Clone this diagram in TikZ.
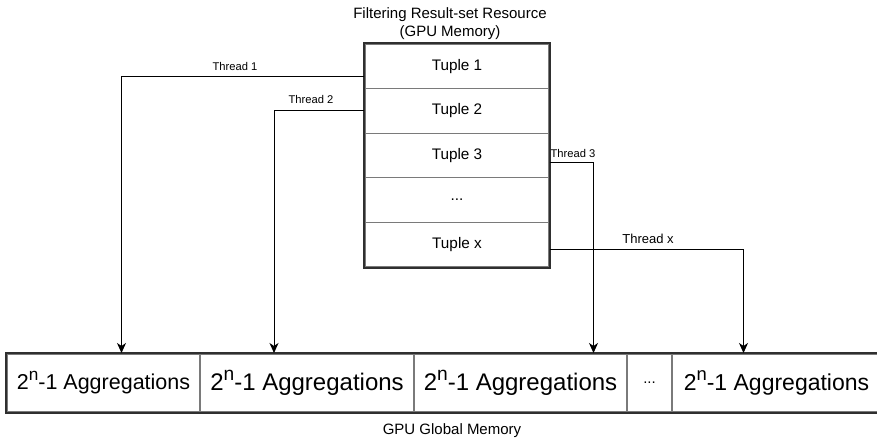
\documentclass[tikz,border=0pt]{standalone}
\usepackage{fontspec}
\setmainfont{Liberation Sans}
\usetikzlibrary{arrows.meta,calc}
\definecolor{edgegray}{HTML}{2F2F2F}
\definecolor{divgray}{HTML}{7A7A7A}
\newcommand\supn[1]{\raisebox{0.42em}{\scalebox{0.8}{#1}}}
\begin{document}
\begin{tikzpicture}[x=1pt,y=-1pt,
  tuplecell/.style={draw=divgray,line width=1.2pt,minimum width=184pt,minimum height=44.6pt,
    inner sep=0pt,font=\fontsize{15.3}{18}\selectfont},
  aggcell/.style={draw=divgray,line width=1.2pt,minimum height=58pt,inner sep=0pt},
  outline/.style={draw=edgegray,line width=2pt},
  thr/.style={draw=black,line width=0.95pt,-{Stealth[length=10pt,width=9pt,inset=3pt]}},
  thrlabel/.style={inner sep=0pt,font=\fontsize{11.2}{13}\selectfont},
  plain/.style={inner sep=0pt,align=center,font=\fontsize{15}{18}\selectfont}]
\useasboundingbox (0,0) rectangle (877,442);
\clip (0,0) rectangle (877,442);

% title of the result-set resource
\node[plain] (title) at (450,24) {Filtering Result-set Resource\\(GPU Memory)};

% tuple column
\node[tuplecell] (t1) at (457,66.3) {Tuple 1};
\node[tuplecell] (t2) at (457,110.9) {Tuple 2};
\node[tuplecell] (t3) at (457,155.5) {Tuple 3};
\node[tuplecell] (t4) at (457,200.1) {...};
\node[tuplecell] (t5) at (457,244.7) {Tuple x};
\draw[outline] (t1.north west) rectangle (t5.south east);

% aggregation strip in global memory
\node[aggcell,minimum width=193pt,font=\fontsize{21.5}{24}\selectfont] (a1) at (103.5,383) {2\supn{n}-1 Aggregations};
\node[aggcell,minimum width=214pt,font=\fontsize{24}{27}\selectfont] (a2) at (307,383) {2\supn{n}-1 Aggregations};
\node[aggcell,minimum width=213pt,font=\fontsize{24}{27}\selectfont] (a3) at (520.5,383) {2\supn{n}-1 Aggregations};
\node[aggcell,minimum width=45pt,font=\fontsize{15}{18}\selectfont] (a4) at (649.5,383) {...};
\node[aggcell,minimum width=209pt,font=\fontsize{23}{26}\selectfont] (a5) at (776.5,383) {2\supn{n}-1 Aggregations};
\draw[outline] (a1.north west) rectangle (a5.south east);

\node[plain] (gmem) at (452,431) {GPU Global Memory};

% arrow targets on the top edge of the strip
\coordinate (d1) at (121.5,353);
\coordinate (d2) at (274,353);
\coordinate (d3) at (593.5,353);
\coordinate (d4) at (743.5,353);

% thread connectors
\draw[thr] ([yshift=-9.7pt]t1.west) -| (d1);
\draw[thr] ([yshift=0.9pt]t2.west) -| (d2);
\draw[thr] ([yshift=-6.5pt]t3.east) -| (d3);
\draw[thr] ([yshift=-4.3pt]t5.east) -| (d4);

\node[thrlabel] (l1) at (235,66) {Thread 1};
\node[thrlabel] (l2) at (311,99) {Thread 2};
\node[thrlabel] (l3) at (573,153) {Thread 3};
\node[thrlabel,font=\fontsize{13}{15}\selectfont] (l4) at (648,239) {Thread x};
\end{tikzpicture}
\end{document}
